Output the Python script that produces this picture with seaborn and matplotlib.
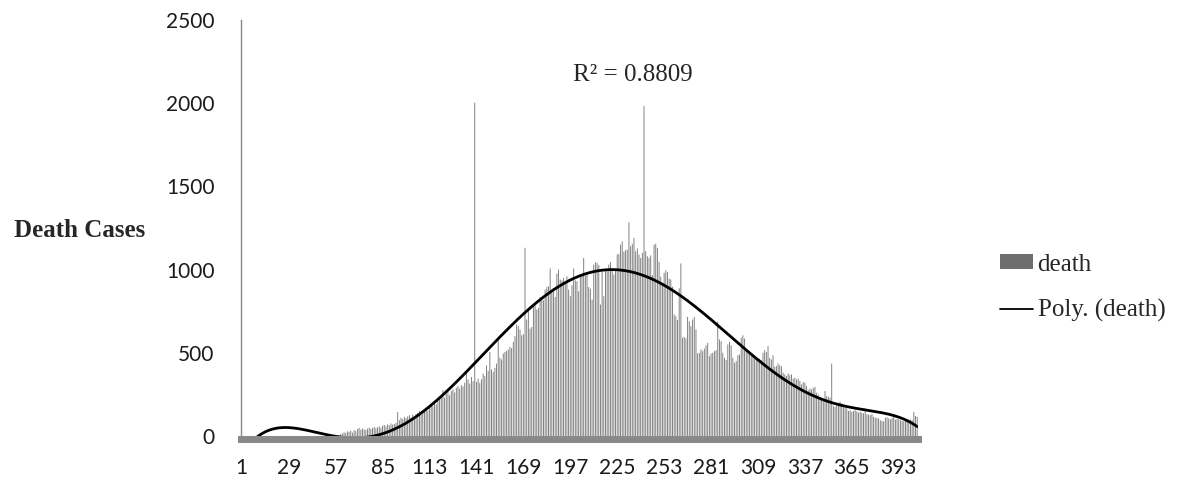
import numpy as np
import matplotlib
matplotlib.use('Agg')
import matplotlib.pyplot as plt
import seaborn as sns
from matplotlib.lines import Line2D
from matplotlib.patches import Patch

# daily death counts (day 1 .. day 404)
deaths = [
    0, 0, 0, 0, 0, 0, 0, 0, 0, 0,
    0, 0, 0, 0, 0, 0, 0, 0, 0, 0,
    0, 0, 0, 0, 0, 0, 0, 0, 0, 0,
    0, 0, 0, 0, 0, 0, 0, 0, 0, 0,
    0, 0, 0, 0, 0, 0, 0, 0, 0, 0,
    0, 0, 0, 0, 0, 0, 0, 3, 6, 10,
    15, 22, 18, 28, 25, 32, 20, 35, 30, 42,
    48, 38, 45, 40, 36, 44, 50, 42, 48, 55,
    46, 52, 58, 50, 62, 66, 58, 70, 64, 75,
    68, 72, 80, 144, 95, 110, 102, 115, 108, 118,
    125, 112, 128, 120, 132, 140, 150, 138, 155, 148,
    160, 152, 170, 185, 178, 195, 190, 210, 225, 240,
    275, 230, 255, 265, 245, 270, 280, 262, 290, 300,
    285, 305, 298, 320, 395, 340, 315, 355, 330, 2003,
    325, 345, 318, 340, 375, 360, 425, 392, 505, 400,
    385, 410, 435, 585, 470, 460, 496, 505, 512, 520,
    535, 528, 565, 600, 670, 660, 640, 605, 612, 1131,
    700, 765, 645, 655, 778, 785, 760, 770, 835, 820,
    815, 880, 895, 900, 1007, 860, 890, 835, 975, 1000,
    940, 935, 950, 920, 960, 880, 840, 905, 1007, 935,
    930, 870, 960, 970, 1070, 965, 970, 895, 885, 820,
    1030, 1045, 1040, 1027, 790, 987, 840, 997, 990, 1030,
    1045, 1010, 970, 1000, 1090, 1095, 1150, 1170, 1107, 1117,
    1120, 1284, 1140, 1155, 1190, 1110, 1127, 1090, 1070, 1100,
    1984, 1110, 1080, 1070, 1085, 967, 1150, 1155, 1130, 1047,
    957, 920, 980, 995, 985, 945, 940, 897, 730, 720,
    696, 887, 1037, 590, 595, 586, 716, 690, 660, 700,
    715, 640, 496, 500, 520, 510, 525, 545, 560, 480,
    495, 500, 510, 515, 686, 580, 570, 500, 470, 456,
    550, 565, 545, 470, 440, 450, 485, 490, 590, 605,
    586, 510, 500, 496, 480, 490, 476, 470, 460, 465,
    456, 500, 516, 505, 540, 470, 460, 485, 416, 420,
    436, 425, 418, 380, 370, 360, 375, 365, 370, 345,
    350, 340, 345, 330, 310, 325, 320, 300, 275, 285,
    280, 290, 295, 260, 250, 230, 225, 220, 270, 240,
    235, 230, 435, 180, 175, 185, 200, 205, 195, 180,
    170, 165, 150, 155, 145, 150, 155, 148, 140, 145,
    140, 135, 165, 130, 128, 125, 132, 115, 110, 108,
    105, 95, 90, 88, 110, 112, 105, 100, 108, 115,
    98, 102, 100, 95, 90, 88, 92, 85, 100, 98,
    95, 145, 120, 115,
]
days = np.arange(1, len(deaths) + 1)
x_ticks = list(range(1, 394, 28))
y_ticks = [0, 500, 1000, 1500, 2000, 2500]
r2_label = "R² = 0.8809"

# 6th order polynomial trendline (like Excel's "Poly.")
poly = np.polynomial.Polynomial.fit(days, deaths, 6)
trend = poly(days)

sns.set_style("white")
plt.rcParams['font.family'] = ['Lato', 'DejaVu Sans']

fig = plt.figure(figsize=(11.83, 4.84), dpi=100)
ax = fig.add_axes([0.2037, 0.0992, 0.5723, 0.8595])

bar_color = "#7a7a7a"
sns.barplot(x=days, y=deaths, native_scale=True, color=bar_color, saturation=1,
            width=0.55, linewidth=0, errorbar=None, ax=ax)
# thin bars: no pixel snapping so none of them vanish
for p in ax.patches:
    p.set_snap(False)
ax.plot(days, trend, color="black", lw=2)

ax.set_xlim(0.5, len(deaths) + 0.5)
ax.set_ylim(0, 2500)
ax.set_xticks(x_ticks)
ax.set_xticklabels([str(t) for t in x_ticks])
ax.set_yticks(y_ticks)
ax.set_xlabel("")
ax.set_ylabel("")

for s in ["top", "right"]:
    ax.spines[s].set_visible(False)
ax.spines["left"].set_color("#868686")
ax.spines["left"].set_linewidth(1)
ax.spines["bottom"].set_color("#888888")
ax.spines["bottom"].set_linewidth(5)
ax.spines["bottom"].set_position(("outward", 2.5))
ax.tick_params(axis="y", direction="out", length=6, width=1, color="#868686",
               labelsize=15, labelcolor="#1a1a1a", pad=13)
ax.tick_params(axis="x", length=0, labelsize=15, labelcolor="#1a1a1a", pad=13)

serif = "Liberation Serif"
fig.text(80 / 1183, 1 - 230 / 484, "Death Cases", family=serif,
         weight="bold", fontsize=18, ha="center", va="center")
ax.text(0.579, 0.868, r2_label, transform=ax.transAxes, family=serif,
        fontsize=18, ha="center", va="center")

handles = [Patch(facecolor="#6e6e6e", edgecolor="none"),
           Line2D([0], [0], color="black", lw=1.3)]
fig.legend(handles, ["death", "Poly. (death)"], loc="center left",
           bbox_to_anchor=(1000 / 1183, 1 - 288 / 484), frameon=False,
           prop={"family": serif, "size": 18}, borderpad=0, borderaxespad=0,
           handlelength=1.3, handleheight=0.55, handletextpad=0.2,
           labelspacing=0.95)

fig.savefig("out.png", dpi=100)
